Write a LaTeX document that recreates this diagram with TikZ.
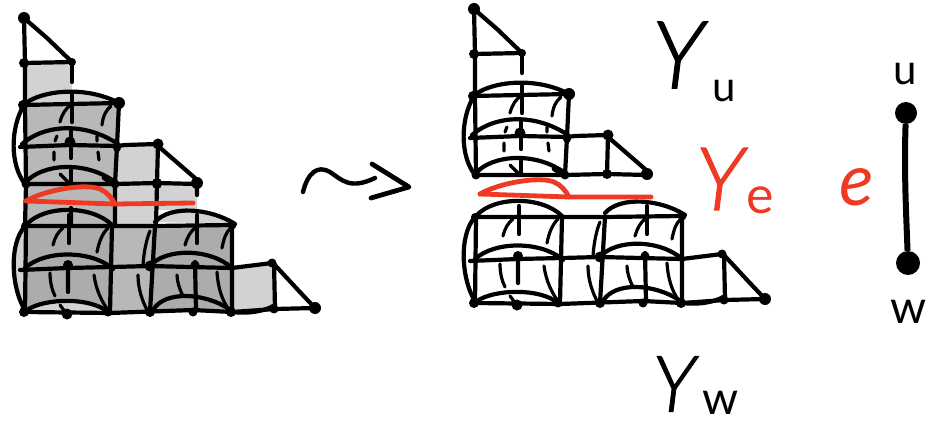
\documentclass[tikz,border=0pt]{standalone}
\usepackage{fontspec}
\newfontfamily\hand[FakeBold=1.2]{Lato Light}
\newfontfamily\handsmall{Lato}
\definecolor{redink}{HTML}{EE3A24}
\definecolor{gl}{HTML}{D2D2D2}
\definecolor{gm}{HTML}{B8B8B8}
\definecolor{gd}{HTML}{ACACAC}
\tikzset{
  ink/.style={line width=4.2pt,line cap=round,line join=round,draw=black},
  thinink/.style={line width=3.2pt,line cap=round,line join=round,draw=black},
  redstroke/.style={line width=4.8pt,line cap=round,line join=round,draw=redink},
  lab/.style={inner sep=0pt},
  endpt/.style={circle,fill=black,inner sep=0pt,minimum size=22pt},
}
\newcommand{\pdot}[2]{\fill (#1) circle (#2pt);}
\newcommand{\upperpart}{%
  \draw[ink] (24,18) -- (25,63) -- (25,105) -- (26,184);
  \draw[ink] (24,18) -- (47,38) -- (72,62) -- (24,63);
  \draw[ink] (72,62) -- (72,82);
  \draw[ink] (23,105) -- (70,104) -- (119,103) -- (117,146) -- (115,184);
  \draw[ink] (26,103) .. controls (42,91) and (85,85) .. (119,103);
  \draw[ink] (72,95) -- (72,122) (71,130) -- (71,158) (71,170) -- (71,184);
  \draw[thinink] (60,122) .. controls (62,114) and (66,108) .. (71,105);
  \draw[thinink] (102,125) .. controls (103,116) and (106,110) .. (111,106);
  \draw[ink] (24,105) .. controls (10,128) and (10,165) .. (25,184);
  \draw[ink] (20,147) -- (70,145) -- (117,146) -- (125,145) -- (158,144);
  \draw[ink] (22,144) .. controls (45,124) and (85,122) .. (118,144);
  \draw[thinink] (57,136) -- (55,141) (54,152) -- (54,160) (97,136) -- (97,141) (98,152) -- (99,160);
  \draw[ink] (26,184) -- (115,184) -- (157,183) -- (197,184);
  \draw[ink] (26,182) .. controls (42,164) and (85,160) .. (115,182);
  \draw[thinink] (60,174) -- (69,183) (103,178) -- (112,184);
  \draw[ink] (158,144) -- (157,183);
  \draw[ink] (158,146) -- (195,178);
  \pdot{24,18}{6}\pdot{24,63}{5}\pdot{72,62}{4}\pdot{23,105}{5}\pdot{119,103}{6}
  \pdot{70,142}{5.5}\pdot{117,148}{4}\pdot{158,144}{5.5}\pdot{157,183}{5}\pdot{197,183}{6}
  \pdot{26,184}{4.5}\pdot{115,184}{4.5}
}
\newcommand{\lowerpart}{%
  \draw[ink] (25,226) -- (112,226) -- (155,226) -- (232,225);
  \draw[ink] (27,224) .. controls (45,205) and (92,205) .. (112,225);
  \draw[ink] (155,222) .. controls (170,205) and (210,208) .. (235,224);
  \draw[ink] (69,215) -- (69,243) (197,215) -- (197,243);
  \draw[thinink] (53,245) .. controls (55,237) and (58,232) .. (63,228);
  \draw[thinink] (97,252) .. controls (99,242) and (102,234) .. (108,228);
  \draw[thinink] (143,265) .. controls (144,250) and (147,238) .. (150,231);
  \draw[thinink] (185,245) .. controls (187,238) and (190,232) .. (195,228);
  \draw[thinink] (222,248) .. controls (224,238) and (226,232) .. (231,228);
  \draw[ink] (25,226) .. controls (8,245) and (12,290) .. (25,310);
  \draw[ink] (20,270) -- (68,268) -- (112,267) -- (150,266) -- (190,267) -- (232,268) -- (272,263);
  \draw[ink] (25,268) .. controls (45,250) and (90,250) .. (112,268);
  \draw[ink] (150,266) .. controls (165,248) and (210,248) .. (232,268);
  \draw[ink] (26,226) -- (25,312) (112,226) -- (110,312) (155,226) -- (150,312) (232,226) -- (232,312) (274,263) -- (275,308);
  \draw[ink] (68,265) -- (68,292) (195,262) -- (196,310);
  \draw[thinink] (50,273) .. controls (50,282) and (52,290) .. (55,296);
  \draw[thinink] (94,275) .. controls (96,290) and (102,302) .. (108,310);
  \draw[thinink] (138,275) .. controls (138,290) and (143,302) .. (147,310);
  \draw[thinink] (177,275) .. controls (177,282) and (180,290) .. (183,296);
  \draw[thinink] (217,272) .. controls (218,288) and (222,300) .. (229,310);
  \draw[ink] (25,312) -- (110,313) -- (193,310) -- (232,312) -- (275,309) -- (315,308);
  \draw[ink] (27,310) .. controls (45,298) and (90,297) .. (108,312);
  \draw[ink] (153,310) .. controls (165,290) and (205,293) .. (229,309);
  \draw[ink] (232,312) .. controls (250,314) and (265,311) .. (275,305);
  \draw[ink] (273,263) -- (298,290) -- (315,308);
  \draw[thinink] (60,305) -- (66,313);
  \pdot{24,312}{5}\pdot{67,314}{5.5}\pdot{108,312}{4.5}\pdot{150,312}{5}\pdot{193,312}{4.5}
  \pdot{231,312}{5}\pdot{274,309}{4.5}\pdot{315,308}{6}\pdot{150,266}{5.5}\pdot{195,265}{4.5}
  \pdot{68,265}{5}\pdot{232,225}{4.5}\pdot{272,263}{4.5}\pdot{112,268}{3.5}\pdot{25,226}{4}
}
\begin{document}
\begin{tikzpicture}[x=1pt,y=-1pt]
\useasboundingbox (0,0) rectangle (943,425);
% grey fills of the left complex
\fill[gl] (26,63) -- (72,63) -- (72,105) -- (26,105) -- cycle;
\fill[gl] (26,103) .. controls (42,91) and (85,85) .. (119,103) -- cycle;
\fill[gm] (25,105) -- (119,103) -- (116,184) -- (26,184) -- cycle;
\fill[gl] (117,146) -- (158,144) -- (157,184) -- (116,184) -- cycle;
\fill[gm] (26,184) -- (115,184) -- (115,226) -- (25,226) -- cycle;
\fill[gl] (115,184) -- (197,184) -- (197,210) -- (157,210) -- (157,226) -- (115,226) -- cycle;
\fill[gl] (25,226) .. controls (8,245) and (12,290) .. (25,310) -- cycle;
\fill[gd] (26,226) -- (112,226) -- (110,312) -- (26,312) -- cycle;
\fill[gm] (112,226) -- (155,226) -- (150,312) -- (110,312) -- cycle;
\fill[gd] (155,226) -- (232,226) -- (232,312) -- (150,312) -- cycle;
\fill[gl] (232,266) -- (274,263) -- (275,308) -- (232,312) -- cycle;
\fill[gl] (27,310) .. controls (45,298) and (90,297) .. (108,312) -- cycle;
\fill[gl] (155,222) .. controls (170,205) and (210,208) .. (235,224) -- cycle;
% left complex
\upperpart
\draw[ink] (26,184) -- (25,226) (71,208) -- (71,226) (115,184) -- (115,226) (157,184) -- (156,226) (197,184) -- (197,195);
\pdot{157,184}{5}
\lowerpart
\draw[redstroke] (26,201) -- (115,204) -- (193,203);
\draw[redstroke] (26,201) .. controls (45,190) and (85,183) .. (100,189) .. controls (107,192) and (112,198) .. (115,204);
% right complex
\begin{scope}[shift={(450,-9)}]
\upperpart
\lowerpart
\end{scope}
\begin{scope}[shift={(454,-7)}]
\draw[redstroke] (26,201) -- (115,204) -- (197,204);
\draw[redstroke] (26,201) .. controls (45,190) and (85,183) .. (100,189) .. controls (107,192) and (112,198) .. (115,204);
\end{scope}
% squiggle arrow
\draw[line width=4.4pt,line cap=round,line join=round] (303,192) .. controls (308,172) and (318,165) .. (330,172) .. controls (342,180) and (350,190) .. (375,178);
\draw[line width=4.8pt,line cap=round,line join=round] (372,164) -- (409,187) -- (371,198);
% labels
\node[lab,font=\hand\itshape\fontsize{94}{94}\selectfont] (yu) at (678,55) {Y};
\node[lab,font=\handsmall\fontsize{42}{42}\selectfont] (su) at (724,91) {u};
\node[lab,text=redink,font=\hand\itshape\fontsize{88}{88}\selectfont] (ye) at (720,179) {Y};
\node[lab,text=redink,font=\handsmall\fontsize{52}{52}\selectfont] (se) at (760,200) {e};
\node[lab,text=redink,font=\handsmall\itshape\fontsize{72}{72}\selectfont] (ee) at (857,187) {e};
\node[lab,font=\handsmall\fontsize{42}{42}\selectfont] (lu) at (905,74) {u};
\node[lab,font=\handsmall\fontsize{46}{46}\selectfont] (lw) at (909,312) {w};
\node[lab,font=\hand\itshape\fontsize{78}{78}\selectfont] (yw) at (674,384) {Y};
\node[lab,font=\handsmall\fontsize{46}{46}\selectfont] (sw) at (721,403) {w};
% edge u--w
\node[endpt] (uu) at (906,113) {};
\node[endpt,minimum size=24pt] (ww) at (908,263) {};
\draw[line width=6pt] (uu) .. controls (904,170) and (906,210) .. (ww);
\end{tikzpicture}
\end{document}
